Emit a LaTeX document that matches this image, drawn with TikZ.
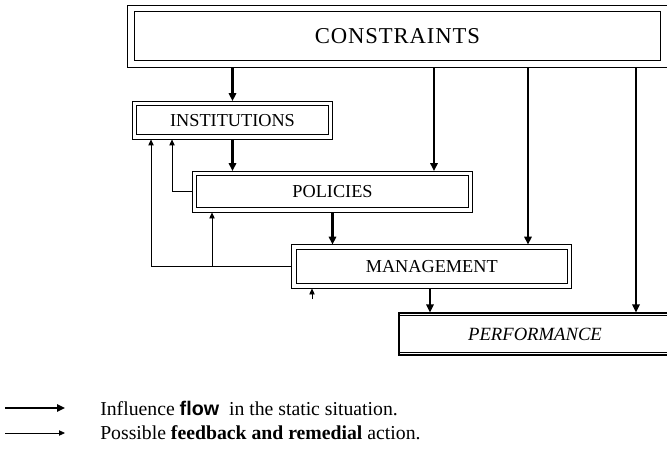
\documentclass[tikz,border=0pt]{standalone}
\usepackage{fontspec}
\setmainfont{Liberation Serif}
\newfontfamily\legsans{Liberation Sans}
\usetikzlibrary{arrows.meta}

\begin{document}
\begin{tikzpicture}[x=0.75pt, y=-0.75pt,
    box/.style={draw, double, line width=0.7pt, double distance=2.6pt, outer sep=1.8pt,
                inner sep=0pt, font=\fontsize{13.7}{16}\selectfont},
    flow/.style={-{Triangle[length=6pt,width=5.5pt]}, line width=1.7pt},
    feedback/.style={-{Triangle[length=4.5pt,width=4pt]}, line width=0.6pt},
    legend/.style={anchor=west, inner sep=0pt, font=\fontsize{14.8}{17}\selectfont}]
    \clip (0,0) rectangle (667,450);

    % Boxes
    \node[box, double distance=4.2pt, outer sep=2.5pt, minimum width=399.75pt, minimum height=41.6pt,
          font=\fontsize{17}{20}\selectfont\addfontfeature{LetterSpace=4}] (cons) at (397.5,36.25) {CONSTRAINTS};
    \node[box, minimum width=147pt, minimum height=25.1pt] (inst) at (232.5,120.25) {INSTITUTIONS};
    \node[box, minimum width=207pt, minimum height=27.4pt] (pol) at (332.5,191.75) {POLICIES};
    \node[box, minimum width=206.6pt, minimum height=29.25pt] (man) at (431.75,266.5) {MANAGEMENT};
    \node[draw, line width=0.8pt, minimum width=204pt, minimum height=31.5pt,
          font=\fontsize{14}{16}\selectfont\itshape] (perf) at (535,334) {PERFORMANCE};
    \draw[line width=0.8pt] ([yshift=-2.4pt]perf.north west) -- ([yshift=-2.4pt]perf.north east);
    \draw[line width=0.8pt] ([yshift=2.6pt]perf.south west) -- ([yshift=2.6pt]perf.south east);

    % Influence flow
    \draw[flow] (cons.south -| inst.north) -- (inst.north);
    \draw[flow] (inst.south) -- (inst.south |- pol.north);
    \draw[flow] (pol.south) -- (pol.south |- man.north);
    \draw[flow] (man.south -| 430,0) -- (perf.north -| 430,0);
    \foreach \x/\n in {434/pol, 528/man, 636/perf}
        \draw[flow] (cons.south -| \x,0) -- (\n.north -| \x,0);

    % Feedback
    \draw[feedback] (pol.west) -| (inst.south -| 172,0);
    \draw[feedback] (man.west) -| (inst.south -| 151,0);
    \draw[feedback] (man.west -| 212,0) -- (pol.south -| 212,0);
    \coordinate (stub) at (312,299);
    \draw[feedback] (stub) -- (man.south -| stub);

    % Legend
    \coordinate (fa) at (5,408);
    \coordinate (fb) at (65,408);
    \coordinate (ba) at (5,433);
    \coordinate (bb) at (65,433);
    \draw[flow] (fa) -- (fb);
    \draw[feedback] (ba) -- (bb);
    \node[legend] (legflow) at (100,408) {Influence {\legsans\bfseries flow}\ \ in the static situation.};
    \node[legend] (legback) at (100,433) {Possible \textbf{feedback and remedial} action.};
\end{tikzpicture}
\end{document}
